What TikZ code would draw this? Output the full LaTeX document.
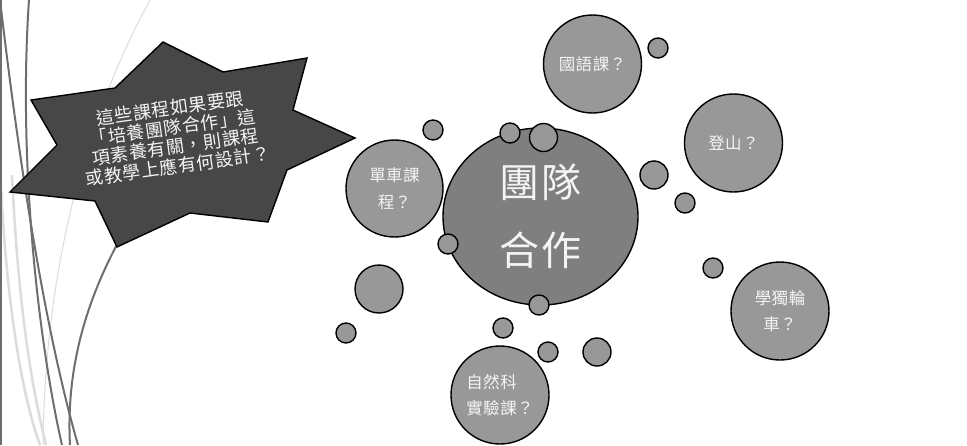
\documentclass[tikz,border=0pt]{standalone}
\usepackage{fontspec}
\newfontfamily\cjkstar[LetterSpace=4]{Noto Sans CJK TC}
\newfontfamily\cjksmall[LetterSpace=3]{Noto Sans CJK TC}
\newfontfamily\cjkbig[LetterSpace=3]{Noto Sans CJK TC}
\usetikzlibrary{shapes.geometric}
\definecolor{wispdark}{HTML}{6E6E6E}
\definecolor{wisplight}{HTML}{DCDCDC}
\definecolor{starfill}{HTML}{474747}
\definecolor{bubfill}{HTML}{989898}
\definecolor{corefill}{HTML}{7F7F7F}
\definecolor{txt}{HTML}{F4F4F4}
\begin{document}
\begin{tikzpicture}[x=1pt,y=-1pt,
  bub/.style={circle, draw=black, line width=1.4pt, fill=bubfill, inner sep=0pt},
  lbl/.style={text=txt, font=\cjksmall\fontsize{16.5}{26.5}\selectfont},
  dot/.style={bub, minimum size=20pt},
  mdot/.style={bub, minimum size=28pt}]
\useasboundingbox (0,0) rectangle (967,445);
\fill[white] (0,0) rectangle (967,445);
% decorative wisps
\draw[wisplight, line width=1pt] (150,0) .. controls (95,100) and (45,250) .. (43,445);
\draw[wisplight, line width=2.5pt] (0,165) .. controls (5,290) and (20,390) .. (40,445);
\draw[wisplight, line width=2.5pt] (12,175) .. controls (18,300) and (30,380) .. (46,445);
\draw[wispdark, line width=1.5pt] (1,0) -- (1,445);
\draw[wispdark, line width=2pt] (0,0) .. controls (20,170) and (45,330) .. (78,445);
\draw[wispdark, line width=2pt] (29,0) .. controls (18,160) and (38,340) .. (62,445);
\draw[wispdark, line width=2pt] (125,230) .. controls (85,300) and (66,370) .. (70,445);
% star
\draw[fill=starfill, draw=black, line width=1.4pt, line join=miter]
  (163,42) -- (223,72) -- (307,58) -- (293,110) -- (355,138) -- (287,170)
  -- (268,222) -- (190,213) -- (117,247) -- (95,201) -- (10,192) -- (57,145)
  -- (31,100) -- (115,88) -- cycle;
\node[text=txt, font=\cjkstar\fontsize{18}{19.5}\selectfont, align=center, rotate=8] (q) at (174,137)
  {這些課程如果要跟\\「培養團隊合作」這\\項素養有關，則課程\\或教學上應有何設計？};
% core
\node[ellipse, draw=black, line width=1.4pt, fill=corefill, inner sep=0pt,
  minimum width=195pt, minimum height=177pt, text=txt, align=center,
  font=\cjkbig\fontsize{40}{68}\selectfont] (core) at (540.5,216.5) {團隊\\合作};
% topic bubbles
\node[bub, minimum size=97pt, lbl, align=center] (bike) at (394.5,188.5) {單車課\\程？};
\node[bub, minimum size=98pt, lbl, align=center] (chin) at (592.5,64) {國語課？};
\node[bub, minimum size=98pt, lbl, align=center] (hike) at (733.5,143) {登山？};
\node[bub, minimum size=98pt, lbl, align=center] (uni) at (780,311) {學獨輪\\車？};
\node[bub, minimum size=98pt, lbl, align=left] (sci) at (500,395) {自然科\\實驗課？};
% small dots
\node[dot] (d1) at (510,133) {};
\node[mdot] (d2) at (543.5,137.5) {};
\node[dot] (d3) at (448,244) {};
\node[dot] (d4) at (539,305) {};
\node[dot] (d5) at (433,130) {};
\node[bub, minimum size=48pt] (d6) at (379,289) {};
\node[dot] (d7) at (346,333) {};
\node[dot] (d8) at (503,328) {};
\node[dot] (d9) at (548,352) {};
\node[mdot] (d10) at (597,352) {};
\node[dot] (d11) at (658,48) {};
\node[mdot] (d12) at (654,175) {};
\node[dot] (d13) at (685,203) {};
\node[dot] (d14) at (713,268) {};
\end{tikzpicture}
\end{document}
